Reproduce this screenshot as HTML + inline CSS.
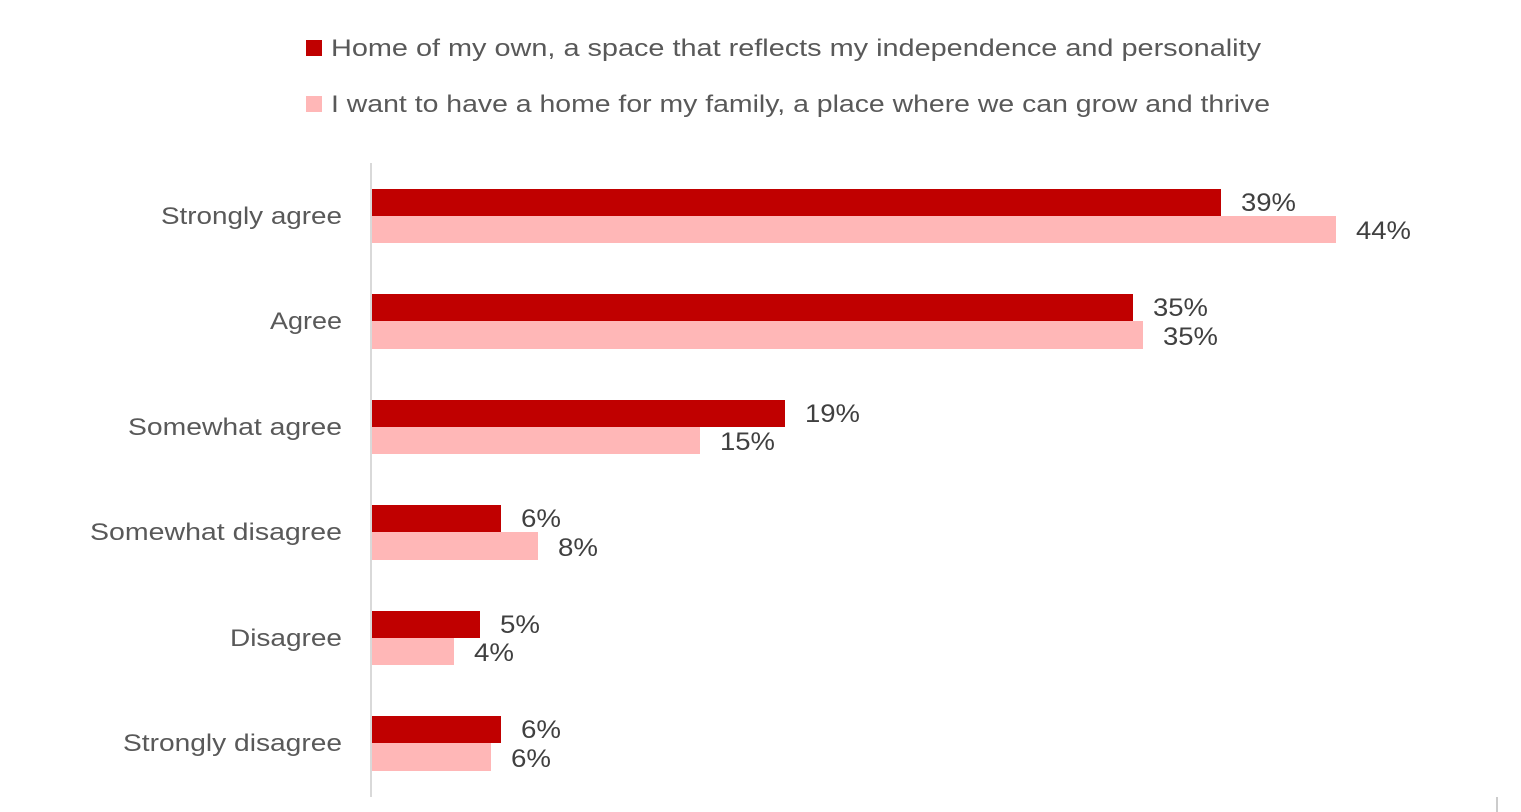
<!DOCTYPE html>
<html><head><style>body{margin:0;background:#fff}svg{display:block}</style></head><body>
<svg width="1521" height="812" xmlns="http://www.w3.org/2000/svg" font-family="Liberation Sans, sans-serif" font-size="24" fill="#595959">
<rect x="306" y="40" width="16" height="16" fill="#C00000"/>
<rect x="306" y="96" width="16" height="16" fill="#FFB7B7"/>
<text x="331" y="56" textLength="930" lengthAdjust="spacingAndGlyphs">Home of my own, a space that reflects my independence and personality</text>
<text x="331" y="112" textLength="939" lengthAdjust="spacingAndGlyphs">I want to have a home for my family, a place where we can grow and thrive</text>
<line x1="371" y1="163" x2="371" y2="797" stroke="#d9d9d9" stroke-width="2"/>
<line x1="1497" y1="797" x2="1497" y2="812" stroke="#999" stroke-width="1"/>
<g>
<rect x="372" y="189" width="849" height="27" fill="#C00000"/><rect x="372" y="216" width="964" height="27" fill="#FFB7B7"/>
<rect x="372" y="294" width="761" height="27" fill="#C00000"/><rect x="372" y="321" width="771" height="28" fill="#FFB7B7"/>
<rect x="372" y="400" width="413" height="27" fill="#C00000"/><rect x="372" y="427" width="328" height="27" fill="#FFB7B7"/>
<rect x="372" y="505" width="129" height="27" fill="#C00000"/><rect x="372" y="532" width="166" height="28" fill="#FFB7B7"/>
<rect x="372" y="611" width="108" height="27" fill="#C00000"/><rect x="372" y="638" width="82" height="27" fill="#FFB7B7"/>
<rect x="372" y="716" width="129" height="27" fill="#C00000"/><rect x="372" y="743" width="119" height="28" fill="#FFB7B7"/>
</g>
<g>
<text x="161" y="224" textLength="181" lengthAdjust="spacingAndGlyphs">Strongly agree</text>
<text x="270" y="329" textLength="72" lengthAdjust="spacingAndGlyphs">Agree</text>
<text x="128" y="435" textLength="214" lengthAdjust="spacingAndGlyphs">Somewhat agree</text>
<text x="90" y="540" textLength="252" lengthAdjust="spacingAndGlyphs">Somewhat disagree</text>
<text x="230" y="646" textLength="112" lengthAdjust="spacingAndGlyphs">Disagree</text>
<text x="123" y="751" textLength="219" lengthAdjust="spacingAndGlyphs">Strongly disagree</text>
</g>
<g fill="#404040" font-size="25">
<text x="1241" y="211" textLength="55" lengthAdjust="spacingAndGlyphs">39%</text><text x="1356" y="239" textLength="55" lengthAdjust="spacingAndGlyphs">44%</text>
<text x="1153" y="316" textLength="55" lengthAdjust="spacingAndGlyphs">35%</text><text x="1163" y="345" textLength="55" lengthAdjust="spacingAndGlyphs">35%</text>
<text x="805" y="422" textLength="55" lengthAdjust="spacingAndGlyphs">19%</text><text x="720" y="450" textLength="55" lengthAdjust="spacingAndGlyphs">15%</text>
<text x="521" y="527" textLength="40" lengthAdjust="spacingAndGlyphs">6%</text><text x="558" y="556" textLength="40" lengthAdjust="spacingAndGlyphs">8%</text>
<text x="500" y="633" textLength="40" lengthAdjust="spacingAndGlyphs">5%</text><text x="474" y="661" textLength="40" lengthAdjust="spacingAndGlyphs">4%</text>
<text x="521" y="738" textLength="40" lengthAdjust="spacingAndGlyphs">6%</text><text x="511" y="767" textLength="40" lengthAdjust="spacingAndGlyphs">6%</text>
</g>
</svg>
</body></html>
